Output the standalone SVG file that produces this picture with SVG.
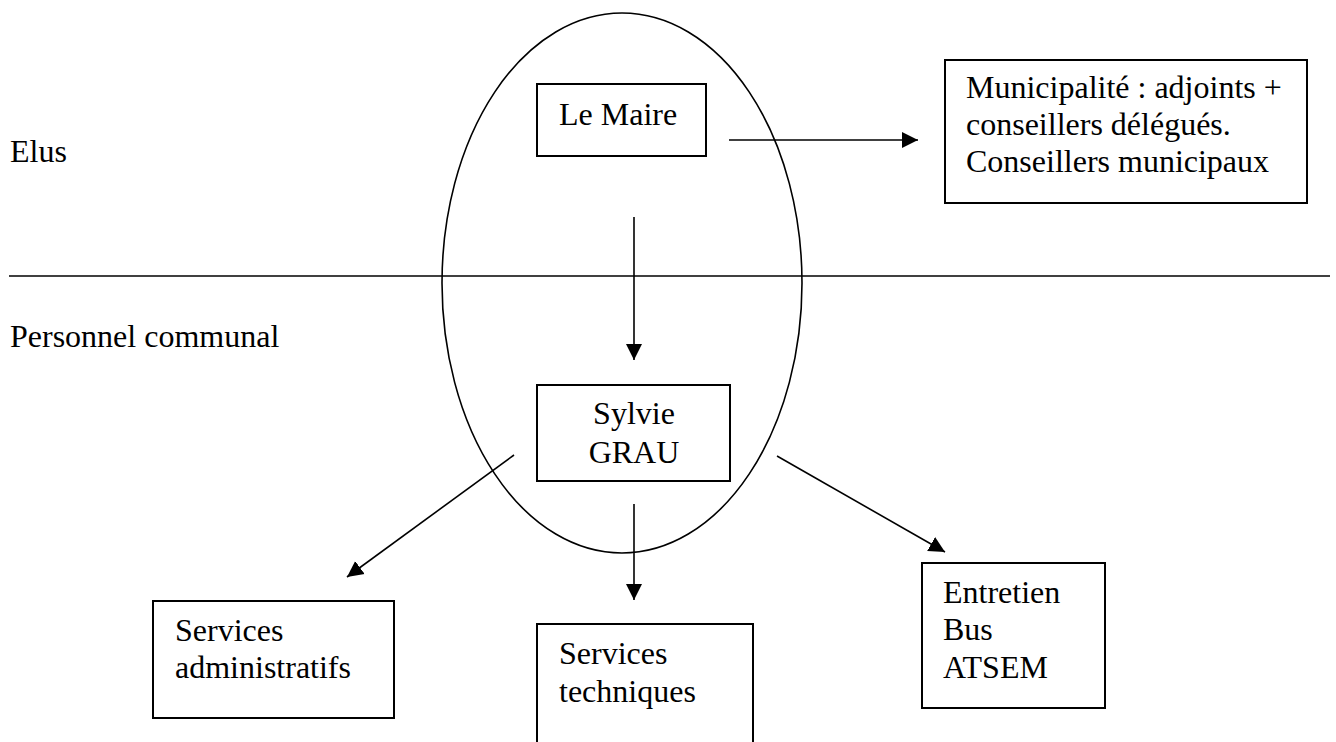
<svg xmlns="http://www.w3.org/2000/svg" width="1336" height="742" viewBox="0 0 1336 742">
<style>
text{font-family:"Liberation Serif","Times New Roman",serif;font-size:32px;fill:#000}
.box{fill:#fff;stroke:#000;stroke-width:2}
.ln{stroke:#000;stroke-width:1.6;fill:none}
</style>
<defs>
<marker id="ah" markerUnits="userSpaceOnUse" markerWidth="18" markerHeight="18" viewBox="0 0 18 18" refX="16" refY="9" orient="auto">
<path d="M0,1 L16,9 L0,17 Z" fill="#000"/>
</marker>
</defs>
<rect width="1336" height="742" fill="#fff"/>
<g id="labels">
<text x="10" y="162">Elus</text>
<text x="10" y="347">Personnel communal</text>
</g>
<line class="ln" x1="9" y1="276" x2="1330" y2="276"/>
<ellipse class="ln" cx="622" cy="283" rx="180" ry="270"/>
<g id="le-maire">
<rect class="box" x="537" y="84" width="169" height="72"/>
<text x="559" y="125">Le Maire</text>
</g>
<g id="municipalite">
<rect class="box" x="945" y="60" width="362" height="143"/>
<text x="966" y="98">Municipalité : adjoints +</text>
<text x="966" y="135">conseillers délégués.</text>
<text x="966" y="172">Conseillers municipaux</text>
</g>
<g id="sylvie-grau">
<rect class="box" x="537" y="385" width="193" height="96"/>
<text x="634" y="424" text-anchor="middle">Sylvie</text>
<text x="634" y="463" text-anchor="middle">GRAU</text>
</g>
<g id="services-administratifs">
<rect class="box" x="153" y="601" width="241" height="117"/>
<text x="175" y="641">Services</text>
<text x="175" y="678">administratifs</text>
</g>
<g id="services-techniques">
<rect class="box" x="537" y="624" width="216" height="140"/>
<text x="559" y="664">Services</text>
<text x="559" y="702">techniques</text>
</g>
<g id="entretien">
<rect class="box" x="922" y="563" width="183" height="145"/>
<text x="943" y="603">Entretien</text>
<text x="943" y="640">Bus</text>
<text x="943" y="678">ATSEM</text>
</g>
<g id="connectors">
<line class="ln" x1="729" y1="140" x2="918" y2="140" marker-end="url(#ah)"/>
<line class="ln" x1="634" y1="217" x2="634" y2="360" marker-end="url(#ah)"/>
<line class="ln" x1="514" y1="455" x2="347" y2="577" marker-end="url(#ah)"/>
<line class="ln" x1="634" y1="504" x2="634" y2="600" marker-end="url(#ah)"/>
<line class="ln" x1="777" y1="456" x2="945" y2="552" marker-end="url(#ah)"/>
</g>
</svg>
